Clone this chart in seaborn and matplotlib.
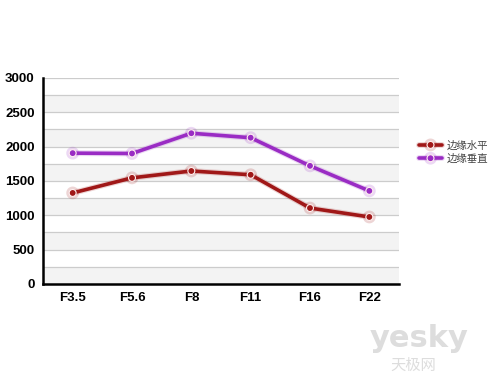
import matplotlib
matplotlib.use("Agg")
import matplotlib.pyplot as plt
import matplotlib.patheffects as pe
import seaborn as sns
import pandas as pd

categories = ["F3.5", "F5.6", "F8", "F11", "F16", "F22"]
horizontal = [1325, 1545, 1645, 1590, 1105, 975]
vertical = [1905, 1900, 2195, 2130, 1720, 1355]
series_names = ["边缘水平", "边缘垂直"]
colors = ["#a01818", "#9a2cc4"]
yticks = [0, 500, 1000, 1500, 2000, 2500, 3000]

sns.set_style("white")
plt.rcParams['font.family'] = ['Noto Sans CJK SC', 'DejaVu Sans']

df = pd.DataFrame({
    "cat": categories * 2,
    "x": list(range(len(categories))) * 2,
    "val": horizontal + vertical,
    "series": [series_names[0]] * len(categories) + [series_names[1]] * len(categories),
})

fig = plt.figure(figsize=(5, 3.75), dpi=100)
ax = fig.add_axes([0.086, 0.243, 0.712, 0.549])

# alternating bands
for k in range(12):
    if k % 2 == 0:
        ax.axhspan(k * 250, (k + 1) * 250, color="#f3f3f3", zorder=0, lw=0)
for k in range(1, 13):
    ax.axhline(k * 250, color="#cccccc", lw=0.9, zorder=1)
n_grid = len(ax.lines)

sns.lineplot(data=df, x="x", y="val", hue="series", palette=colors,
             marker="o", markersize=5, markeredgecolor="#fff0f0",
             markeredgewidth=0.8, linewidth=2.6, ax=ax, zorder=3, legend=True)

for line in ax.lines[n_grid:]:
    c = line.get_color()
    line.set_path_effects([pe.Stroke(linewidth=4.2, foreground=c, alpha=0.18), pe.Normal()])

ax.set_xlim(-0.5, 5.5)
ax.set_ylim(0, 3000)
tick_font = "Liberation Sans"
ax.set_yticks(yticks)
ax.set_yticklabels([str(v) for v in yticks], fontweight="bold", fontsize=9.5,
                   family=tick_font, color="black")
ax.set_xticks([i + 0.5 for i in range(-1, 6)])
ax.set_xticklabels([])
ax.set_xticks(range(6), minor=True)
ax.set_xticklabels(categories, minor=True, fontweight="bold", fontsize=9.5,
                   family=tick_font, color="black")
ax.tick_params(axis="x", which="minor", length=0, pad=6)
ax.tick_params(axis="x", which="major", length=4, width=1.5, color="black", direction="out")
ax.tick_params(axis="y", length=4, width=1.5, color="black", direction="out", pad=2)
ax.set_xlabel("")
ax.set_ylabel("")
for s in ["top", "right"]:
    ax.spines[s].set_visible(False)
for s in ["left", "bottom"]:
    ax.spines[s].set_color("black")
    ax.spines[s].set_linewidth(1.8)
    ax.spines[s].set_zorder(5)

leg = ax.legend(loc="center left", bbox_to_anchor=(1.03, 0.64), frameon=False,
                fontsize=7.5, handlelength=2.2, handletextpad=0.5, labelspacing=0.3)
for t in leg.get_texts():
    t.set_color("#444444")

fig.text(0.74, 0.075, "yesky", fontsize=22, color="#dddddd", fontweight="bold", family="DejaVu Sans")
fig.text(0.78, 0.015, "天极网", fontsize=11, color="#dddddd")

fig.savefig("out.png", dpi=100)
